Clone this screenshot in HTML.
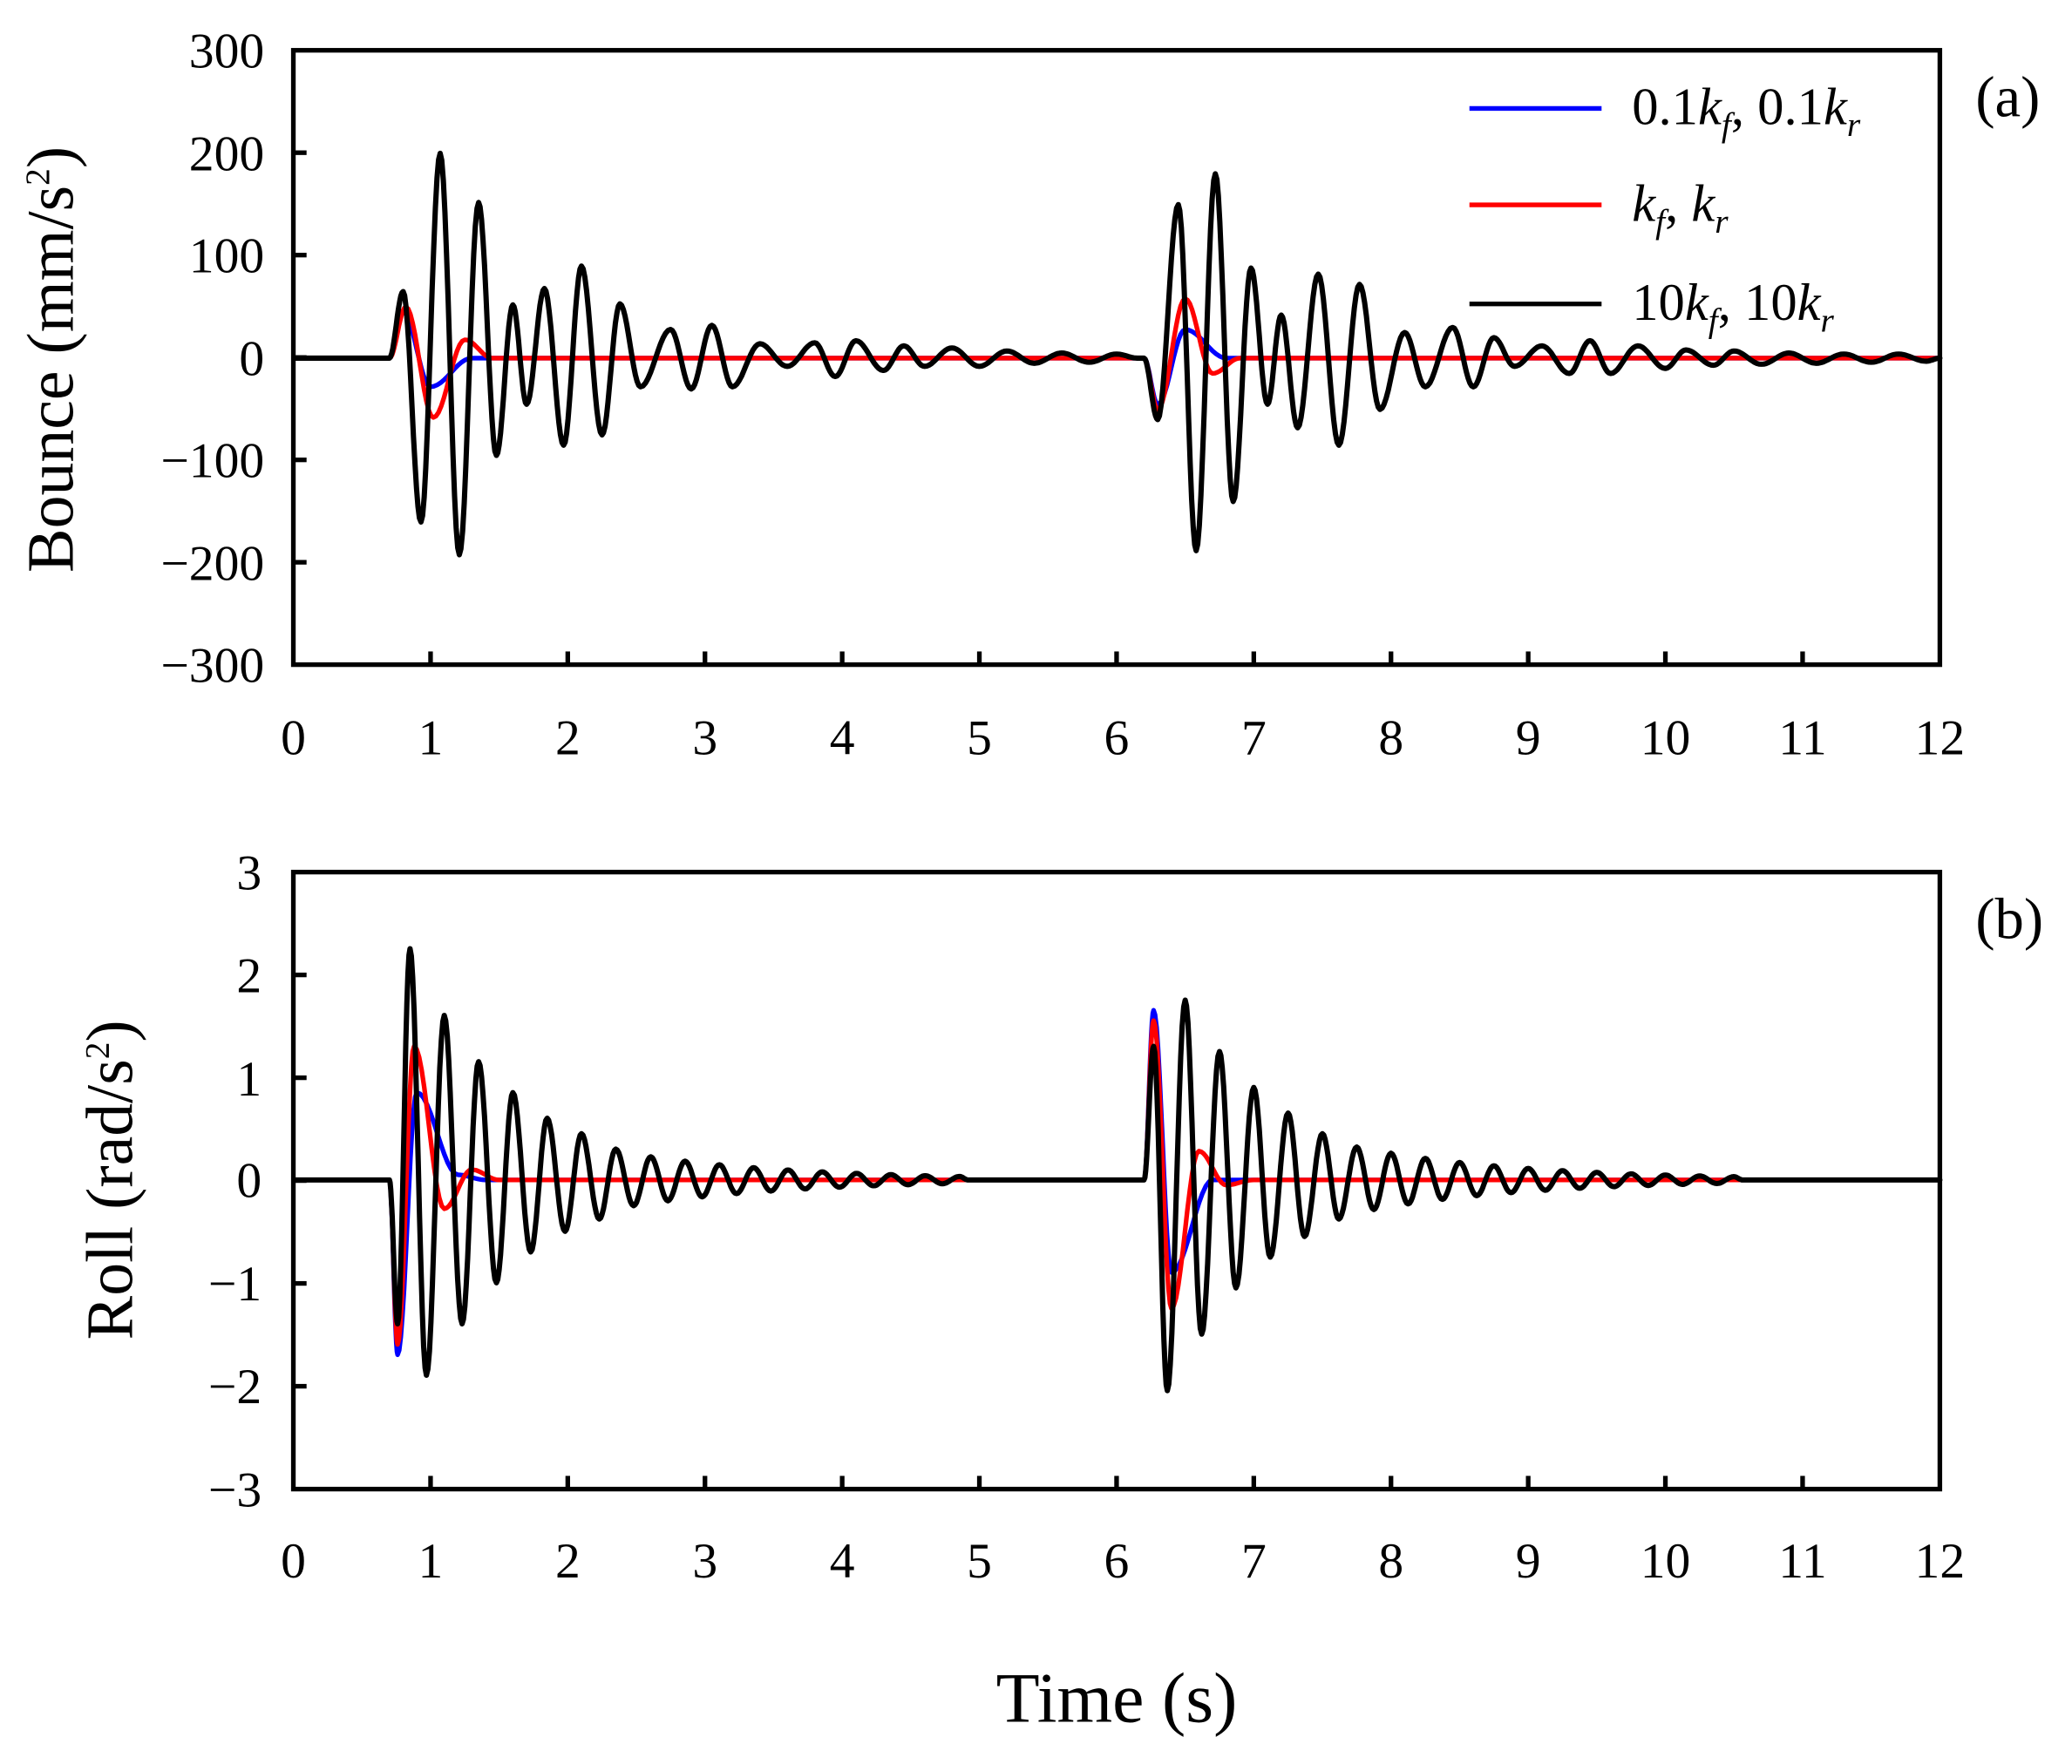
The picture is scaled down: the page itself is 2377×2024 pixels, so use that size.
<!DOCTYPE html>
<html><head><meta charset="utf-8"><style>
html,body{margin:0;padding:0;background:#fff}
svg{display:block}
text{font-family:"Liberation Serif",serif;fill:#000}
</style></head><body>
<svg id="s" width="2377" height="2024" viewBox="0 0 1568 1335" xmlns="http://www.w3.org/2000/svg">
<rect x="0" y="0" width="1568" height="1335" fill="#fff"/>
<g id="plots"></g>
<rect x="222" y="38" width="1246" height="465" fill="none" stroke="#000" stroke-width="3.5"/>
<rect x="222" y="660" width="1246" height="467" fill="none" stroke="#000" stroke-width="3.5"/>
<g id="ticks" stroke="#000" stroke-width="3.5"></g>
<g font-size="38" text-anchor="end">
<text x="200" y="51">300</text><text x="200" y="129">200</text><text x="200" y="206">100</text>
<text x="200" y="284">0</text><text x="200" y="361">−100</text><text x="200" y="439">−200</text><text x="200" y="516">−300</text>
<text x="198" y="673">3</text><text x="198" y="751">2</text><text x="198" y="829">1</text>
<text x="198" y="906">0</text><text x="198" y="984">−1</text><text x="198" y="1062">−2</text><text x="198" y="1140">−3</text>
</g>
<g id="xl" font-size="38" text-anchor="middle"></g>
<text transform="translate(55,272) rotate(-90)" font-size="50" text-anchor="middle">Bounce (mm/s<tspan font-size="26" dy="-18">2</tspan><tspan dy="18">)</tspan></text>
<text transform="translate(100,893) rotate(-90)" font-size="50" text-anchor="middle">Roll (rad/s<tspan font-size="26" dy="-18">2</tspan><tspan dy="18">)</tspan></text>
<text x="845" y="1303" font-size="54" text-anchor="middle">Time (s)</text>
<text x="1495" y="88" font-size="44">(a)</text>
<text x="1495" y="710" font-size="44">(b)</text>
<line x1="1112" y1="82" x2="1212" y2="82" stroke="#0000ff" stroke-width="3.5"/>
<line x1="1112" y1="155" x2="1212" y2="155" stroke="#ff0000" stroke-width="3.5"/>
<line x1="1112" y1="230" x2="1212" y2="230" stroke="#000" stroke-width="3.5"/>
<g font-size="40">
<text x="1235" y="94">0.1<tspan font-style="italic">k</tspan><tspan font-style="italic" font-size="26" dy="9">f</tspan><tspan dy="-9">, 0.1</tspan><tspan font-style="italic">k</tspan><tspan font-style="italic" font-size="26" dy="9">r</tspan></text>
<text x="1235" y="167"><tspan font-style="italic">k</tspan><tspan font-style="italic" font-size="26" dy="9">f</tspan><tspan dy="-9">, </tspan><tspan font-style="italic">k</tspan><tspan font-style="italic" font-size="26" dy="9">r</tspan></text>
<text x="1235" y="242">10<tspan font-style="italic">k</tspan><tspan font-style="italic" font-size="26" dy="9">f</tspan><tspan dy="-9">, 10</tspan><tspan font-style="italic">k</tspan><tspan font-style="italic" font-size="26" dy="9">r</tspan></text>
</g>
</svg>
<script>
var NS="http://www.w3.org/2000/svg";
function X(t){return 222+t*103.83;}
function path(pts,y0,sc,col,w,tend){
  var d="M"+X(0)+","+y0;
  for(var i=0;i<pts.length-1;i++){
    var a=pts[i],b=pts[i+1];
    for(var k=0;k<=12;k++){var f=k/12;var v=a[1]+(b[1]-a[1])*(1-Math.cos(Math.PI*f))/2;var t=a[0]+(b[0]-a[0])*f;
      d+=" L"+X(t).toFixed(1)+","+(y0-v*sc).toFixed(1);}
  }
  d+=" L"+X(tend)+","+y0;
  var p=document.createElementNS(NS,"path");p.setAttribute("d",d);p.setAttribute("fill","none");
  p.setAttribute("stroke",col);p.setAttribute("stroke-width",w);p.setAttribute("stroke-linejoin","round");
  document.getElementById("plots").appendChild(p);
}
function ext(list,t,amp,half,decay,tEnd,sign){
  while(t<tEnd){t+=half;amp*=decay;list.push([t,sign*amp]);sign=-sign;}
  list.push([t+half/2,0]);return list;
}
var a0=271,as=0.775;
var blackA=[[0,0],[0.7,0],[0.8,65],[0.93,-160],[1.07,200],[1.21,-192],[1.35,152],[1.48,-95],[1.6,52],[1.7,-45],[1.83,68],[1.97,-85],[2.1,90],[2.25,-75],[2.38,53],[2.53,-28],[2.75,28],[2.9,-30],[3.05,32],[3.2,-28],[3.4,14],[3.6,-8],[3.8,15],[3.95,-18],[4.1,17],[4.3,-12],[4.45,12],[4.6,-8],[4.8,10],[5.0,-8],[5.2,7],[5.4,-5],[5.6,5],[5.8,-4],[6.0,4],[6.15,0],
[6.2,0],[6.3,-60],[6.45,150],[6.58,-188],[6.72,180],[6.85,-140],[6.98,88],[7.1,-45],[7.2,42],[7.32,-68],[7.47,82],[7.62,-85],[7.77,72],[7.92,-50],[8.1,25],[8.25,-28],[8.45,30],[8.6,-28],[8.75,20],[8.9,-8],[9.1,12],[9.3,-15],[9.45,17],[9.6,-15],[9.8,12],[10.0,-10],[10.15,8],[10.35,-7],[10.5,7],[10.7,-6],[10.9,5],[11.1,-5],[11.3,4],[11.5,-4],[11.7,4],[11.9,-3],[12,0]];
path([[0,0],[0.7,0],[0.8,45],[1.0,-28],[1.3,0],[6.2,0],[6.3,-45],[6.5,28],[6.8,0],[12,0]],a0,as,"#0000ff",3.5,12);
path([[0,0],[0.7,0],[0.82,50],[1.02,-58],[1.25,18],[1.45,0],[6.2,0],[6.3,-50],[6.5,58],[6.7,-15],[6.9,0],[12,0]],a0,as,"#ff0000",3.5,12);
path(blackA,a0,as,"#000",4,12);
var b0=893,bs=77.8;
var bb=[[0,0],[0.7,0],[0.76,-1.4],[0.85,2.25],[0.97,-1.9],[1.1,1.6],[1.23,-1.4],[1.35,1.15],[1.48,-1.0],[1.6,0.85],[1.73,-0.7],[1.85,0.6],[1.98,-0.5],[2.1,0.45],[2.23,-0.38],[2.35,0.3],[2.48,-0.25]];
ext(bb,2.48,0.25,0.125,0.9,4.8,1);
bb.push([6.2,0]);
bb=bb.concat([[6.27,1.3],[6.37,-2.05],[6.5,1.75],[6.62,-1.5],[6.75,1.25],[6.87,-1.05],[7.0,0.9],[7.12,-0.75],[7.25,0.65],[7.37,-0.55],[7.5,0.45],[7.62,-0.38],[7.75,0.32]]);
ext(bb,7.75,0.32,0.125,0.9,10.4,-1);
bb.push([12,0]);
path([[0,0],[0.7,0],[0.76,-1.7],[0.9,0.85],[1.2,0.05],[1.4,0],[6.2,0],[6.27,1.65],[6.4,-0.9],[6.7,0],[10.6,0]],b0,bs,"#0000ff",3.5,10.6);
path([[0,0],[0.7,0],[0.76,-1.6],[0.88,1.3],[1.1,-0.28],[1.3,0.1],[1.5,0],[6.2,0],[6.27,1.55],[6.4,-1.25],[6.6,0.28],[6.8,-0.05],[7,0],[10.6,0]],b0,bs,"#ff0000",3.5,10.6);
path(bb,b0,bs,"#000",4,12);
var tk=document.getElementById("ticks"),xl=document.getElementById("xl");
function ln(x1,y1,x2,y2){var l=document.createElementNS(NS,"line");l.setAttribute("x1",x1);l.setAttribute("y1",y1);l.setAttribute("x2",x2);l.setAttribute("y2",y2);tk.appendChild(l);}
for(var i=0;i<=12;i++){var x=X(i);
 if(i>0&&i<12){ln(x,503,x,493);ln(x,1127,x,1117);}
 var t=document.createElementNS(NS,"text");t.setAttribute("x",x);t.setAttribute("y",571);t.textContent=i;xl.appendChild(t);
 t=document.createElementNS(NS,"text");t.setAttribute("x",x);t.setAttribute("y",1194);t.textContent=i;xl.appendChild(t);}
for(var j=1;j<6;j++){ln(222,38+j*77.5,232,38+j*77.5);ln(222,660+j*77.83,232,660+j*77.83);}
</script>
</body></html>
